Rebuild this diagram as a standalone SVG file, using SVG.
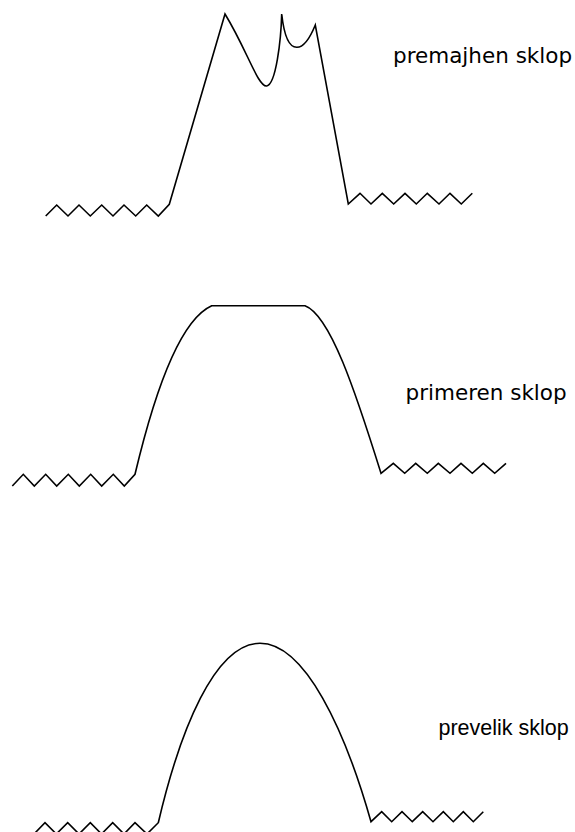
<svg xmlns="http://www.w3.org/2000/svg" width="575" height="832" viewBox="0 0 575 832">
<style>
.c{fill:none;stroke:#000;stroke-width:1.6;stroke-linejoin:miter;stroke-linecap:butt}
.t1{font-family:"DejaVu Sans",sans-serif;font-size:21.5px;fill:#000}
.t2{font-family:"Liberation Sans",Arial,sans-serif;font-size:21.5px;fill:#000}
</style>
<rect width="575" height="832" fill="#fff"/>
<g id="premajhen">
<path class="c" d="M45.7,216 L56.7,205 L68,216 L79,205 L90.3,216 L101.7,205 L113,216 L124,205 L135.7,216 L146.7,205 L158.3,216 L169.3,204.3 L225,14 C247,50 258,87 266.7,86 C276,84.5 281,40 281.7,14 C284,35 289,47.3 296.7,47.3 C304,47.5 310,38 315.3,25 L348.3,204 L360,193.3 L371,204 L382.3,193.3 L393.7,204 L405,193.3 L416.3,204 L427.3,193.3 L439,204 L450,193.3 L461.3,204 L472.3,193.3"/>
<text class="t1" x="393" y="62.7">premajhen sklop</text>
</g>
<g id="primeren">
<path class="c" d="M12.3,486 L23.3,474.3 L34.3,486 L45.7,474.3 L56.7,486 L68.3,474.3 L79.3,486 L90.7,474.3 L101.7,486 L113.3,474.3 L124.3,486 L135,474.3 C155,390 180,320 211.7,305.7 L305,305.7 C330,315 355,390 381,473.3 L393.3,463.3 L404.7,473.3 L415.7,463.3 L427.3,473.3 L438.3,463.3 L450,473.3 L461,463.3 L472.3,473.3 L483.3,463.3 L494.7,473.3 L506,463.3"/>
<text class="t1" x="405.5" y="400">primeren sklop</text>
</g>
<g id="prevelik">
<path class="c" d="M34,834 L45,822.7 L56.3,834 L67.7,822.7 L79,834 L90.3,822.7 L101.5,834 L112.7,822.7 L124,834 L135,822.7 L147,834 L158.3,822.7 C180,730 215,643.3 260,643.3 C305,643.3 345,730 371,821.7 L381.7,811.7 L391.7,821.7 L402,811.7 L412.3,821.7 L422.7,811.7 L433,821.7 L443.3,811.7 L453.3,821.7 L463.3,811.7 L473.3,821.7 L483.3,811.7"/>
<text class="t2" x="438.5" y="735">prevelik sklop</text>
</g>
</svg>
